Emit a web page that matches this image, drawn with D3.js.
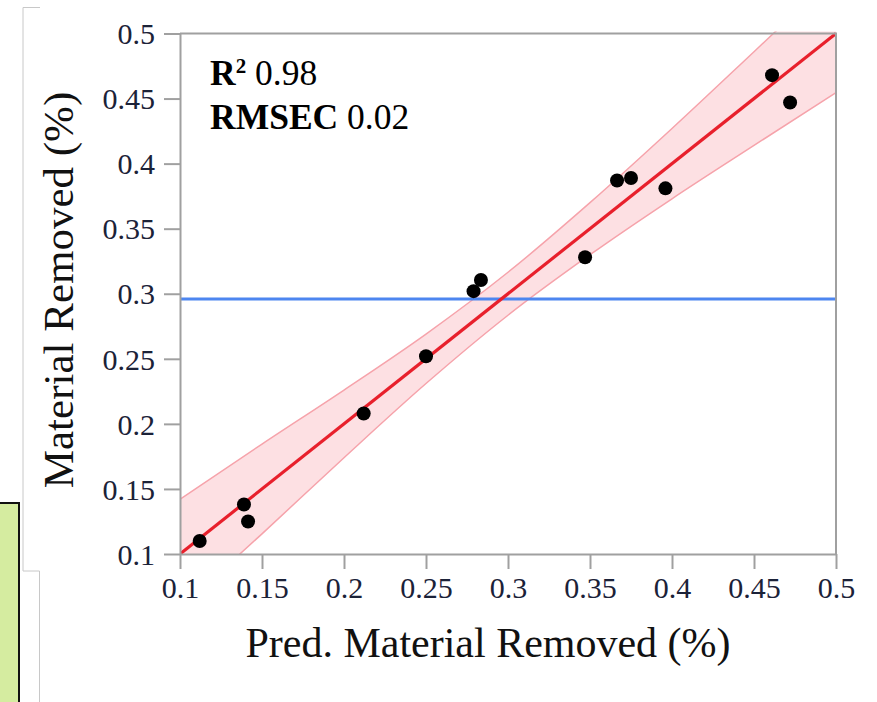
<!DOCTYPE html>
<html>
<head>
<meta charset="utf-8">
<script src="https://cdn.jsdelivr.net/npm/d3@7"></script>
<style>
  body { margin: 0; background: #fff; }
  svg { display: block; }
</style>
</head>
<body>
<script>
// observed vs predicted material removed (%)
var predicho = [0.112, 0.139, 0.1415, 0.212, 0.250, 0.279, 0.2835, 0.347, 0.3665, 0.375, 0.396, 0.461, 0.472];
var medido   = [0.110, 0.138, 0.125, 0.208, 0.252, 0.302, 0.3106, 0.328, 0.387, 0.389, 0.381, 0.468, 0.447];

// fit line ends and confidence band
var lineaX = [0.1, 0.5];
var lineaY = [0.1, 0.5];
var bandaX    = [0.10, 0.15, 0.20, 0.25, 0.30, 0.35, 0.40, 0.45, 0.50];
var bandaBaja = [0.058, 0.1155, 0.174, 0.231, 0.2835, 0.330, 0.373, 0.414, 0.4546];
var bandaAlta = [0.142, 0.1845, 0.226, 0.269, 0.3165, 0.370, 0.427, 0.486, 0.5454];
var media = 0.296;

var ticks = [0.1, 0.15, 0.2, 0.25, 0.3, 0.35, 0.4, 0.45, 0.5];
var etiquetas = ["R", "RMSEC"];
var valores = ["0.98", "0.02"];

var vis = {
  width: 877,
  height: 702,
  izq: 180,
  der: 836,
  arriba: 33.5,
  abajo: 554,
  fuente: "Liberation Serif, Times New Roman, serif"
};

var svg = d3.select("body").append("svg")
  .attr("width", vis.width)
  .attr("height", vis.height);

// leftover bits of the slide on the left
svg.append("path")
  .attr("d", "M40,7.5H23V571H39.5V702")
  .attr("fill", "none")
  .attr("stroke", "#c8c8c8")
  .attr("stroke-width", 1);
svg.append("rect")
  .attr("x", -2).attr("y", 503)
  .attr("width", 21).attr("height", 205)
  .attr("fill", "#d5eca0")
  .attr("stroke", "#111")
  .attr("stroke-width", 2);

var x = d3.scaleLinear().domain([0.1, 0.5]).range([vis.izq, vis.der]);
var y = d3.scaleLinear().domain([0.1, 0.5]).range([vis.abajo, vis.arriba]);

svg.append("clipPath").attr("id", "recorte")
  .append("rect")
  .attr("x", vis.izq).attr("y", vis.arriba - 2)
  .attr("width", vis.der - vis.izq).attr("height", vis.abajo - vis.arriba + 2);

var g = svg.append("g").attr("clip-path", "url(#recorte)");

var banda = bandaX.map(function(d, i) { return [d, bandaBaja[i], bandaAlta[i]]; });

g.append("path")
  .datum(banda)
  .attr("d", d3.area()
    .x(function(d) { return x(d[0]); })
    .y0(function(d) { return y(d[1]); })
    .y1(function(d) { return y(d[2]); })
    .curve(d3.curveMonotoneX))
  .attr("fill", "#fde0e3");

[1, 2].forEach(function(k) {
  g.append("path")
    .datum(banda)
    .attr("d", d3.line()
      .x(function(d) { return x(d[0]); })
      .y(function(d) { return y(d[k]); })
      .curve(d3.curveMonotoneX))
    .attr("fill", "none")
    .attr("stroke", "#f6a3ab")
    .attr("stroke-width", 1.5);
});

// mean line
g.append("line")
  .attr("x1", x(0.1)).attr("x2", x(0.5))
  .attr("y1", y(media)).attr("y2", y(media))
  .attr("stroke", "#4d86f0")
  .attr("stroke-width", 3);

g.append("line")
  .attr("x1", x(lineaX[0])).attr("y1", y(lineaY[0]))
  .attr("x2", x(lineaX[1])).attr("y2", y(lineaY[1]))
  .attr("stroke", "#e8202c")
  .attr("stroke-width", 3.2);

// axes
var ejeX = svg.append("g")
  .attr("transform", "translate(0," + vis.abajo + ")")
  .call(d3.axisBottom(x).tickValues(ticks).tickSize(15).tickSizeOuter(0).tickFormat(d3.format("")));
ejeX.selectAll("text").attr("dy", 0).attr("y", 44);

var ejeY = svg.append("g")
  .attr("transform", "translate(" + vis.izq + ",0)")
  .call(d3.axisLeft(y).tickValues(ticks).tickSize(16).tickSizeOuter(0).tickFormat(d3.format("")));
ejeY.selectAll("text").attr("x", -25).attr("dy", "0.34em");

svg.selectAll(".tick text")
  .attr("font-family", vis.fuente)
  .attr("font-size", 30)
  .attr("fill", "#1b2238");
svg.selectAll(".domain, .tick line")
  .attr("stroke", "#a0a0a0")
  .attr("stroke-width", 2);

// top and right frame
svg.append("path")
  .attr("d", "M" + vis.izq + "," + vis.arriba + "H" + vis.der + "V" + vis.abajo)
  .attr("fill", "none")
  .attr("stroke", "#a0a0a0")
  .attr("stroke-width", 2);

svg.selectAll("circle")
  .data(predicho)
  .enter()
  .append("circle")
  .attr("cx", function(dato) { return x(dato); })
  .attr("cy", function(dato, i) { return y(medido[i]); })
  .attr("r", 7)
  .attr("fill", "#000");

// stats text
var nota = svg.append("g")
  .attr("font-family", vis.fuente)
  .attr("font-size", 35.5)
  .attr("fill", "#000");

etiquetas.forEach(function(t, i) {
  var linea = nota.append("text").attr("x", 210).attr("y", 85 + i * 44);
  linea.append("tspan").attr("font-weight", "bold").text(t);
  if (i === 0) {
    linea.append("tspan").attr("font-weight", "bold").attr("font-size", 21)
      .attr("dy", -12).text("2");
    linea.append("tspan").attr("dy", 12).text(" " + valores[i]);
  } else {
    linea.append("tspan").text(" " + valores[i]);
  }
});

// axis titles
svg.append("text")
  .attr("x", 488).attr("y", 657)
  .attr("text-anchor", "middle")
  .attr("font-family", vis.fuente)
  .attr("font-size", 42)
  .attr("fill", "#111")
  .text("Pred. Material Removed (%)");

svg.append("text")
  .attr("transform", "translate(73,290) rotate(-90)")
  .attr("text-anchor", "middle")
  .attr("font-family", vis.fuente)
  .attr("font-size", 43)
  .attr("fill", "#111")
  .text("Material Removed (%)");
</script>
</body>
</html>
